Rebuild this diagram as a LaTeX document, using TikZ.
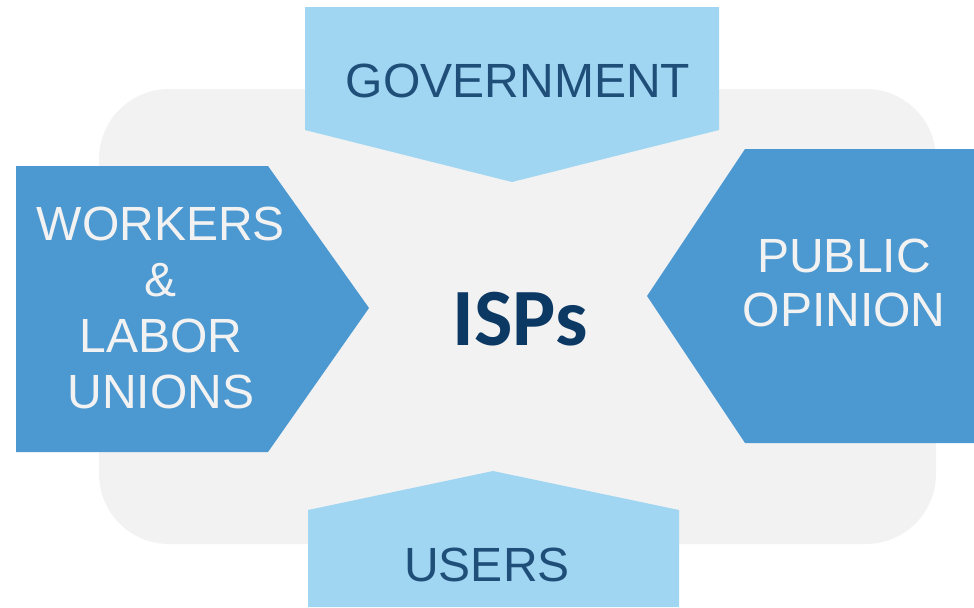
\documentclass[tikz,border=0pt]{standalone}
\usepackage{fontspec}
\setmainfont{Liberation Sans}
\newfontfamily\calib{Carlito}

\definecolor{bgGray}{RGB}{242,242,242}
\definecolor{lightBlue}{RGB}{160,214,242}
\definecolor{midBlue}{RGB}{76,152,208}
\definecolor{navyText}{RGB}{31,78,121}
\definecolor{ispNavy}{RGB}{12,56,100}
\definecolor{paleText}{RGB}{242,242,242}

\tikzset{every picture/.style={line width=0.75pt}}
\tikzset{
  lbl/.style={inner sep=0pt, align=center, font=\fontsize{36}{42}\selectfont},
  darklbl/.style={lbl, text=navyText},
  palelbl/.style={lbl, text=paleText},
}

\begin{document}
\begin{tikzpicture}[x=0.75pt,y=0.75pt,yscale=-1,xscale=1]
	\useasboundingbox (0,0) rectangle (974,607);

	%Shape: Rounded Rectangle [id:backdrop] 
	\fill [bgGray, rounded corners=52.5pt] (99,89) rectangle (936,544);

	%Shape: Pentagon [id:government] 
	\fill [lightBlue] (305,7) -- (719,7) -- (719,130) -- (512,182) -- (305,130) -- cycle ;
	%Shape: Pentagon [id:workers] 
	\fill [midBlue] (16,166) -- (268,166) -- (369,308) -- (268,452) -- (16,452) -- cycle ;
	%Shape: Pentagon [id:publicopinion] 
	\fill [midBlue] (974,149) -- (745,149) -- (647,296) -- (745,443) -- (974,443) -- cycle ;
	%Shape: Pentagon [id:users] 
	\fill [lightBlue] (308,607) -- (308,510) -- (493,471) -- (679,510) -- (679,607) -- cycle ;

	% labels
	\node [darklbl] (gov) at (518,80.5) {GOVERNMENT};
	\node [palelbl] (wrk) at (161,308) {WORKERS\\\&\\LABOR\\UNIONS};
	\node [palelbl, font=\fontsize{36}{40.5}\selectfont] (pub) at (844,282.5) {PUBLIC\\OPINION};
	\node [darklbl] (usr) at (487,564.5) {USERS};
	\node [inner sep=0pt, anchor=base, text=ispNavy, font=\calib\bfseries\fontsize{61}{70}\selectfont] (isp) at (520,345) {ISPs};

\end{tikzpicture}
\end{document}
